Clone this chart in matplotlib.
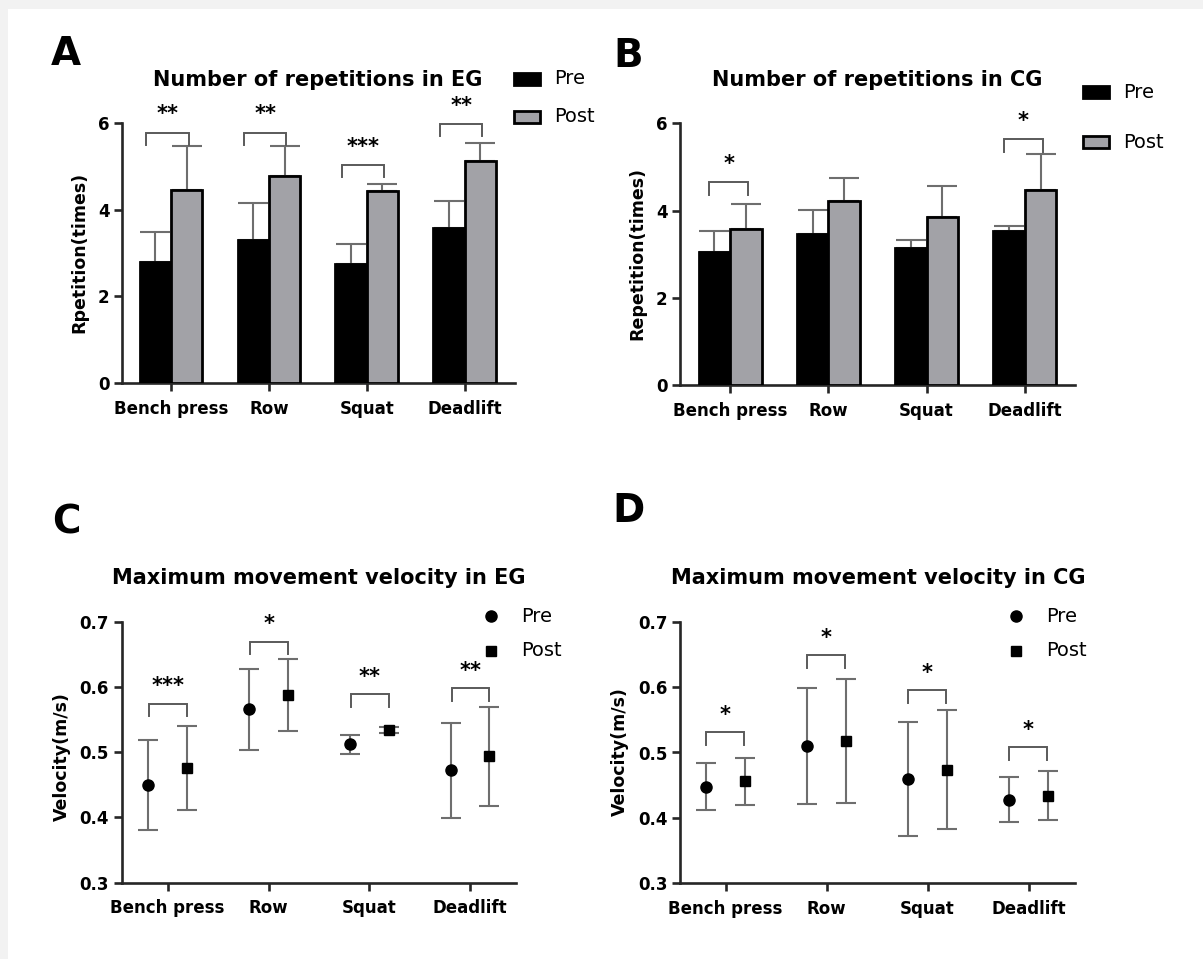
import matplotlib
matplotlib.use("Agg")
import matplotlib.pyplot as plt
from matplotlib.patches import Rectangle
from matplotlib.lines import Line2D
import numpy as np

exercises = ["Bench press", "Row", "Squat", "Deadlift"]

# repetitions (mean, sd) in EG / CG
rep_eg_pre = [2.80, 3.30, 2.75, 3.58]
rep_eg_pre_sd = [0.68, 0.85, 0.46, 0.63]
rep_eg_post = [4.45, 4.78, 4.42, 5.13]
rep_eg_post_sd = [1.02, 0.69, 0.17, 0.42]

rep_cg_pre = [3.06, 3.46, 3.14, 3.54]
rep_cg_pre_sd = [0.48, 0.55, 0.19, 0.11]
rep_cg_post = [3.57, 4.22, 3.86, 4.47]
rep_cg_post_sd = [0.58, 0.53, 0.71, 0.82]

# max velocity (mean, sd) in EG / CG
vel_eg_pre = [0.450, 0.566, 0.512, 0.472]
vel_eg_pre_sd = [0.069, 0.062, 0.015, 0.073]
vel_eg_post = [0.476, 0.588, 0.534, 0.494]
vel_eg_post_sd = [0.064, 0.055, 0.005, 0.076]

vel_cg_pre = [0.448, 0.510, 0.460, 0.428]
vel_cg_pre_sd = [0.036, 0.088, 0.087, 0.035]
vel_cg_post = [0.456, 0.518, 0.474, 0.434]
vel_cg_post_sd = [0.036, 0.095, 0.091, 0.037]

# significance marks: (index, bracket top, star label)
sig_rep_eg = [(0, 5.78, "**"), (1, 5.78, "**"), (2, 5.03, "***"), (3, 5.98, "**")]
sig_rep_cg = [(0, 4.65, "*"), (3, 5.64, "*")]
sig_vel_eg = [(0, 0.574, "***"), (1, 0.669, "*"), (2, 0.589, "**"), (3, 0.598, "**")]
sig_vel_cg = [(0, 0.531, "*"), (1, 0.649, "*"), (2, 0.595, "*"), (3, 0.508, "*")]

W, H = 1203, 959
AXIS_COL = "#262626"
ERR_COL = "#6e6e6e"
POST_GRAY = "#a2a2a7"


def px_axes(fig, l, r, t, b):
    return fig.add_axes([l / W, 1 - b / H, (r - l) / W, (b - t) / H])


def style_axes(ax, xlim, ylim, yticks, yfmt):
    ax.set_xlim(*xlim)
    ax.set_ylim(*ylim)
    for s in ["top", "right"]:
        ax.spines[s].set_visible(False)
    for s in ["left", "bottom"]:
        ax.spines[s].set_linewidth(1.9)
        ax.spines[s].set_color(AXIS_COL)
    ax.set_xticks(range(len(exercises)))
    ax.set_xticklabels(exercises, fontsize=12, fontweight="bold")
    ax.set_yticks(yticks)
    ax.set_yticklabels([yfmt.format(v) for v in yticks], fontsize=12, fontweight="bold")
    ax.tick_params(axis="both", length=6, width=1.9, color=AXIS_COL)
    ax.tick_params(axis="x", pad=6)
    ax.tick_params(axis="y", pad=3)
    ax.patch.set_alpha(0)


def brackets(ax, sig, lo, hi, leg, star_off):
    for i, top, lab in sig:
        ax.plot([i + lo, i + lo, i + hi, i + hi], [top - leg, top, top, top - leg],
                color="#5a5a5a", lw=1.4, clip_on=False, solid_joinstyle="miter")
        ax.text(i + (lo + hi) / 2, top + star_off, lab, ha="center", va="center",
                fontsize=15, fontweight="bold", clip_on=False)


def bar_panel(ax, pre, pre_sd, post, post_sd):
    x = np.arange(len(exercises))
    w = 0.32
    ax.bar(x - w / 2, pre, w, color="black", edgecolor="black", lw=2, zorder=3)
    ax.bar(x + w / 2, post, w, color=POST_GRAY, edgecolor="black", lw=2, zorder=3)
    ax.errorbar(x - w / 2, pre, yerr=[np.zeros(4), pre_sd], fmt="none", ecolor=ERR_COL,
                elinewidth=1.5, capsize=11, capthick=1.5, zorder=2)
    ax.errorbar(x + w / 2, post, yerr=[np.zeros(4), post_sd], fmt="none", ecolor=ERR_COL,
                elinewidth=1.5, capsize=11, capthick=1.5, zorder=2)


def dot_panel(ax, pre, pre_sd, post, post_sd):
    x = np.arange(len(exercises))
    off = 0.19
    ax.errorbar(x - off, pre, yerr=pre_sd, fmt="o", color="black", ms=8,
                ecolor=ERR_COL, elinewidth=1.5, capsize=7, capthick=1.5, zorder=3)
    ax.errorbar(x + off, post, yerr=post_sd, fmt="s", color="black", ms=7.5,
                ecolor=ERR_COL, elinewidth=1.5, capsize=7, capthick=1.5, zorder=3)


def legend_box(fig, x, y, label):
    fig.add_artist(Rectangle(((x - 13) / W, 1 - (y + 6) / H), 26 / W, 12 / H,
                             transform=fig.transFigure, facecolor="black" if label == "Pre" else POST_GRAY,
                             edgecolor="black", lw=2))
    fig.text((x + 27) / W, 1 - y / H, label, fontsize=14, va="center", ha="left")


def legend_mark(fig, x, y, marker, label):
    fig.add_artist(Line2D([x / W], [1 - y / H], transform=fig.transFigure, marker=marker,
                          color="black", ms=8 if marker == "o" else 7.5, ls="none"))
    fig.text((x + 30) / W, 1 - y / H, label, fontsize=14, va="center", ha="left")


def ftext(fig, x, y, s, **kw):
    fig.text(x / W, 1 - y / H, s, ha="center", va="center", **kw)


def main():
    fig = plt.figure(figsize=(W / 100, H / 100), dpi=100, facecolor="#f2f2f2")
    fig.add_artist(Rectangle((8 / W, 0), 1, 1 - 9 / H, transform=fig.transFigure,
                             facecolor="white", edgecolor="none", zorder=-10))

    # A
    axA = px_axes(fig, 122, 515, 123, 383)
    bar_panel(axA, rep_eg_pre, rep_eg_pre_sd, rep_eg_post, rep_eg_post_sd)
    style_axes(axA, (-0.5, 3.514), (0, 6), [0, 2, 4, 6], "{:g}")
    brackets(axA, sig_rep_eg, -0.25, 0.18, 0.28, 0.42)
    ftext(fig, 318, 80, "Number of repetitions in EG", fontsize=15, fontweight="bold")
    ftext(fig, 79, 252, "Rpetition(times)", fontsize=12.5, fontweight="bold", rotation=90)
    ftext(fig, 66, 54, "A", fontsize=28, fontweight="bold")
    legend_box(fig, 527, 79, "Pre")
    legend_box(fig, 527, 117, "Post")

    # B
    axB = px_axes(fig, 680, 1074.5, 123.3, 385)
    bar_panel(axB, rep_cg_pre, rep_cg_pre_sd, rep_cg_post, rep_cg_post_sd)
    style_axes(axB, (-0.51, 3.505), (0, 6), [0, 2, 4, 6], "{:g}")
    brackets(axB, sig_rep_cg, -0.21, 0.18, 0.29, 0.42)
    ftext(fig, 877, 80, "Number of repetitions in CG", fontsize=15, fontweight="bold")
    ftext(fig, 637, 253, "Repetition(times)", fontsize=12.5, fontweight="bold", rotation=90)
    ftext(fig, 628, 56, "B", fontsize=28, fontweight="bold")
    legend_box(fig, 1096, 92, "Pre")
    legend_box(fig, 1096, 142, "Post")

    # C
    axC = px_axes(fig, 121.5, 516, 621.7, 882.7)
    dot_panel(axC, vel_eg_pre, vel_eg_pre_sd, vel_eg_post, vel_eg_post_sd)
    style_axes(axC, (-0.457, 3.453), (0.3, 0.7), [0.3, 0.4, 0.5, 0.6, 0.7], "{:.1f}")
    brackets(axC, sig_vel_eg, -0.18, 0.19, 0.019, 0.027)
    ftext(fig, 319, 578, "Maximum movement velocity in EG", fontsize=15, fontweight="bold")
    ftext(fig, 62, 757, "Velocity(m/s)", fontsize=12.5, fontweight="bold", rotation=90)
    ftext(fig, 66, 522, "C", fontsize=28, fontweight="bold")
    legend_mark(fig, 491, 616, "o", "Pre")
    legend_mark(fig, 491, 651, "s", "Post")

    # D
    axD = px_axes(fig, 680.4, 1074.5, 621.7, 883.3)
    dot_panel(axD, vel_cg_pre, vel_cg_pre_sd, vel_cg_post, vel_cg_post_sd)
    style_axes(axD, (-0.447, 3.455), (0.3, 0.7), [0.3, 0.4, 0.5, 0.6, 0.7], "{:.1f}")
    brackets(axD, sig_vel_cg, -0.19, 0.18, 0.02, 0.026)
    ftext(fig, 878, 578, "Maximum movement velocity in CG", fontsize=15, fontweight="bold")
    ftext(fig, 620, 752, "Velocity(m/s)", fontsize=12.5, fontweight="bold", rotation=90)
    ftext(fig, 628, 511, "D", fontsize=28, fontweight="bold")
    legend_mark(fig, 1016, 616, "o", "Pre")
    legend_mark(fig, 1016, 651, "s", "Post")

    fig.savefig("out.png", dpi=100, facecolor=fig.get_facecolor())


if __name__ == "__main__":
    main()
